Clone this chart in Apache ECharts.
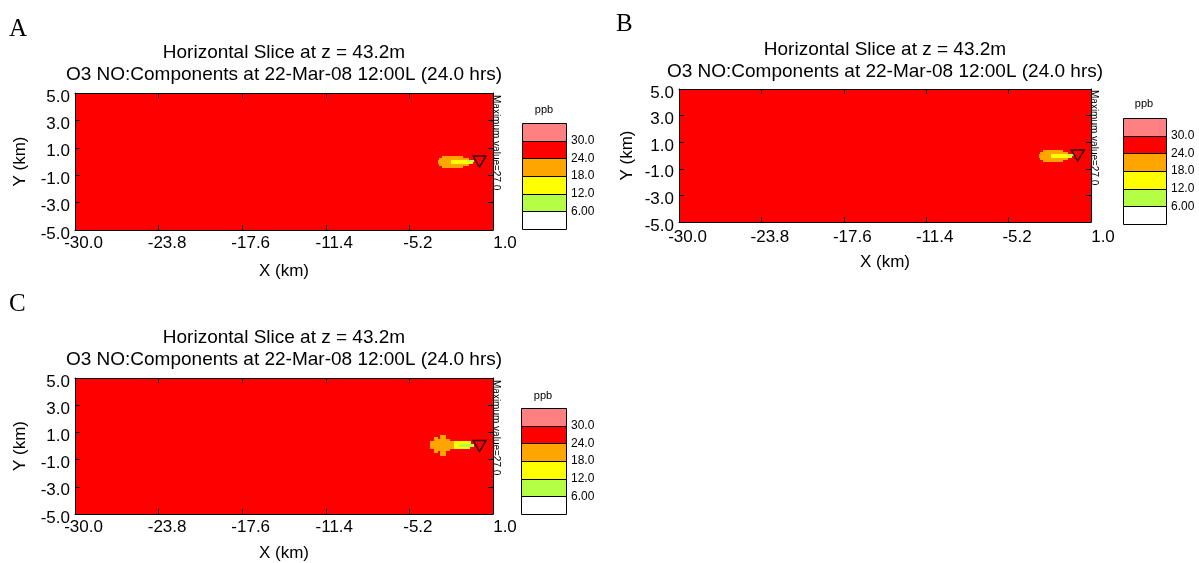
<!DOCTYPE html>
<html>
<head>
<meta charset="utf-8">
<script src="https://cdn.jsdelivr.net/npm/echarts@6/dist/echarts.min.js"></script>
<style>
  html, body { margin: 0; padding: 0; background: #ffffff; }
  #chart { width: 1199px; height: 563px; }
</style>
</head>
<body>
<div id="chart"></div>
<script>
// Axis tick values (km)
const xTicks = [-30.0, -23.8, -17.6, -11.4, -5.2, 1.0];
const yTicks = [5.0, 3.0, 1.0, -1.0, -3.0, -5.0];

// Concentration classes (ppb) and their fill colours
const binEdges = [0, 6, 12, 18, 24, 30, 36];
const binColors = ['#ffffff', '#b4ff46', '#ffff00', '#ffa500', '#ff0000', '#ff8080'];
const keyLabels = [6, 12, 18, 24, 30];

// Largest value on the slice (ppb)
const maxValue = 27.0;

// Cells: [x0, x1, y0, y1, ppb] in km
const field = [[-30.0, 1.0, -5.0, 5.0, 27.0]];

const plumeA = [
  [-2.8, -1.2, 0.25, 0.40, 21],
  [-3.0, -0.8, 0.10, 0.25, 21],
  [-3.1, -2.1, -0.05, 0.10, 21],
  [-2.1, -0.9, -0.05, 0.10, 15],
  [-0.9, -0.4, -0.05, 0.10, 9],
  [-3.1, -2.1, -0.20, -0.05, 21],
  [-2.1, -0.5, -0.20, -0.05, 15],
  [-3.0, -0.8, -0.35, -0.20, 21],
  [-2.8, -1.2, -0.50, -0.35, 21]
];

const plumeB = [
  [-2.6, -1.1, 0.25, 0.40, 21],
  [-2.8, -0.7, 0.10, 0.25, 21],
  [-2.9, -2.0, -0.05, 0.10, 21],
  [-2.0, -0.8, -0.05, 0.10, 15],
  [-0.8, -0.3, -0.05, 0.10, 9],
  [-2.9, -2.0, -0.20, -0.05, 21],
  [-2.0, -0.4, -0.20, -0.05, 15],
  [-2.8, -0.7, -0.35, -0.20, 21],
  [-2.6, -1.1, -0.50, -0.35, 21]
];

const plumeC = [
  [-3.7, -3.4, -0.25, 0.35, 21],
  [-3.4, -3.1, -0.55, 0.65, 21],
  [-3.1, -2.9, -0.40, 0.50, 21],
  [-2.9, -2.5, -0.70, 0.80, 21],
  [-2.5, -2.2, -0.40, 0.50, 21],
  [-2.2, -1.9, -0.25, 0.35, 21],
  [-1.9, -1.5, -0.25, 0.35, 15],
  [-1.5, -0.6, 0.15, 0.35, 15],
  [-1.5, -0.4, -0.05, 0.15, 9],
  [-1.5, -0.7, -0.25, -0.05, 15]
];

// Release point (km)
const source = [[0.0, 0.0]];

const titleLine1 = 'Horizontal Slice at z = 43.2m';
const titleLine2 = 'O3 NO:Components at 22-Mar-08 12:00L (24.0 hrs)';

const FONT = "'Liberation Sans', Arial, sans-serif";

function colorFor(v) {
  for (let i = 0; i < binColors.length; i++) {
    if (v >= binEdges[i] && v < binEdges[i + 1]) return binColors[i];
  }
  return binColors[binColors.length - 1];
}

// Colour key rectangles built from the class edges
const keyCells = binColors.map((c, i) => [0, 1, binEdges[i], binEdges[i + 1], (binEdges[i] + binEdges[i + 1]) / 2]);

function renderCell(params, api) {
  const a = api.coord([api.value(0), api.value(3)]);
  const b = api.coord([api.value(1), api.value(2)]);
  const x = Math.round(a[0]), y = Math.round(a[1]);
  return {
    type: 'rect',
    shape: { x: x, y: y, width: Math.round(b[0]) - x, height: Math.round(b[1]) - y },
    style: { fill: colorFor(api.value(4)), lineWidth: 0 }
  };
}

function renderKeyCell(params, api) {
  const a = api.coord([api.value(0), api.value(3)]);
  const b = api.coord([api.value(1), api.value(2)]);
  const x = Math.round(a[0]) + 0.5, y = Math.round(a[1]) + 0.5;
  return {
    type: 'rect',
    shape: { x: x, y: y, width: Math.round(b[0]) + 0.5 - x, height: Math.round(b[1]) + 0.5 - y },
    style: { fill: colorFor(api.value(4)), stroke: '#000', lineWidth: 1 }
  };
}

const panels = [
  { letter: 'A', cells: plumeA,
    plot: { left: 75, top: 93, width: 418, height: 137 },
    key: { left: 522, top: 123, width: 44, height: 106 },
    letterPos: [9, 17], titlePos: [284, 42], ppbPos: [544, 104], maxPos: [496, 95],
    yGap: 46, xGap: 33, xMargin: 5 },
  { letter: 'B', cells: plumeB,
    plot: { left: 679, top: 89, width: 412, height: 133 },
    key: { left: 1123, top: 118, width: 43, height: 106 },
    letterPos: [616, 12], titlePos: [885, 39], ppbPos: [1144, 98], maxPos: [1094, 90],
    yGap: 43, xGap: 32, xMargin: 7 },
  { letter: 'C', cells: plumeC,
    plot: { left: 75, top: 378, width: 418, height: 136 },
    key: { left: 521, top: 408, width: 45, height: 106 },
    letterPos: [9, 292], titlePos: [284, 327], ppbPos: [543, 390], maxPos: [496, 380],
    yGap: 46, xGap: 31, xMargin: 5 }
];

const grid = [], xAxis = [], yAxis = [], series = [], title = [], graphic = [];
const black = { color: '#000', width: 1 };

panels.forEach((p, k) => {
  const gPlot = 2 * k, gKey = 2 * k + 1;
  const ax = 3 * k;
  grid.push(Object.assign({ outerBoundsMode: 'none', containLabel: false }, p.plot));
  grid.push(Object.assign({ outerBoundsMode: 'none', containLabel: false }, p.key));

  // x axes: bottom with labels, top frame, key
  xAxis.push({
    type: 'value', gridIndex: gPlot, min: -30, max: 1, position: 'bottom', z: 10,
    axisLine: { show: true, onZero: false, lineStyle: black },
    axisTick: { show: true, inside: true, length: 5, customValues: xTicks, lineStyle: black },
    axisLabel: {
      show: true, customValues: xTicks, margin: p.xMargin, color: '#000', fontFamily: FONT, fontSize: 17,
      formatter: v => (v > 0 ? '{e|' : '{n|') + v.toFixed(1) + '}',
      rich: {
        n: { padding: [0, 0, 0, 17], color: '#000', fontFamily: FONT, fontSize: 17 },
        e: { padding: [0, 0, 0, 24], color: '#000', fontFamily: FONT, fontSize: 17 }
      }
    },
    splitLine: { show: false },
    name: 'X (km)', nameLocation: 'middle', nameGap: p.xGap,
    nameTextStyle: { color: '#000', fontFamily: FONT, fontSize: 17 }
  });
  xAxis.push({
    type: 'value', gridIndex: gPlot, min: -30, max: 1, position: 'top', z: 10,
    axisLine: { show: true, onZero: false, lineStyle: black },
    axisTick: { show: true, inside: true, length: 5, customValues: xTicks, lineStyle: black },
    axisLabel: { show: false }, splitLine: { show: false }
  });
  xAxis.push({
    type: 'value', gridIndex: gKey, min: 0, max: 1, show: false
  });

  // y axes: left with labels, right frame, key scale
  yAxis.push({
    type: 'value', gridIndex: gPlot, min: -5, max: 5, position: 'left', z: 10,
    axisLine: { show: true, onZero: false, lineStyle: black },
    axisTick: { show: true, inside: true, length: 5, customValues: yTicks, lineStyle: black },
    axisLabel: {
      show: true, customValues: yTicks, margin: 5, color: '#000', fontFamily: FONT, fontSize: 17,
      formatter: v => '{t|' + v.toFixed(1) + '}',
      rich: { t: { padding: [8, 0, 0, 0], color: '#000', fontFamily: FONT, fontSize: 17 } }
    },
    splitLine: { show: false },
    name: 'Y (km)', nameLocation: 'middle', nameGap: p.yGap,
    nameTextStyle: { color: '#000', fontFamily: FONT, fontSize: 17 }
  });
  yAxis.push({
    type: 'value', gridIndex: gPlot, min: -5, max: 5, position: 'right', z: 10,
    axisLine: { show: true, onZero: false, lineStyle: black },
    axisTick: { show: true, inside: true, length: 5, customValues: yTicks, lineStyle: black },
    axisLabel: { show: false }, splitLine: { show: false }
  });
  yAxis.push({
    type: 'value', gridIndex: gKey, min: binEdges[0], max: binEdges[binEdges.length - 1],
    position: 'right', z: 10,
    axisLine: { show: false }, axisTick: { show: false }, splitLine: { show: false },
    axisLabel: {
      show: true, margin: 5, customValues: keyLabels,
      color: '#000', fontFamily: FONT, fontSize: 12, formatter: v => v.toPrecision(3)
    }
  });

  // concentration field, plume cells, release point
  series.push({
    type: 'custom', xAxisIndex: ax, yAxisIndex: ax, renderItem: renderCell,
    encode: { x: [0, 1], y: [2, 3] }, data: field, silent: true, z: 1
  });
  series.push({
    type: 'custom', xAxisIndex: ax, yAxisIndex: ax, renderItem: renderCell,
    encode: { x: [0, 1], y: [2, 3] }, data: p.cells, silent: true, z: 2
  });
  series.push({
    type: 'scatter', xAxisIndex: ax, yAxisIndex: ax, data: source, silent: true, z: 3,
    symbol: 'triangle', symbolSize: [13, 11], symbolRotate: 180,
    itemStyle: { color: 'rgba(0,0,0,0)', borderColor: '#000', borderWidth: 1.5 }
  });
  series.push({
    type: 'custom', xAxisIndex: ax + 2, yAxisIndex: ax + 2, renderItem: renderKeyCell,
    encode: { x: [0, 1], y: [2, 3] }, data: keyCells, silent: true, z: 2
  });

  title.push({
    text: titleLine1 + '\n' + titleLine2, left: p.titlePos[0], top: p.titlePos[1],
    textAlign: 'center', padding: 0,
    textStyle: { color: '#000', fontFamily: FONT, fontSize: 19, fontWeight: 'normal', lineHeight: 22 }
  });
  title.push({
    text: p.letter, left: p.letterPos[0], top: p.letterPos[1], padding: 0,
    textStyle: { color: '#000', fontFamily: "'Liberation Serif', 'Times New Roman', serif", fontSize: 25, fontWeight: 'normal' }
  });
  title.push({
    text: 'ppb', left: p.ppbPos[0], top: p.ppbPos[1], textAlign: 'center', padding: 0,
    textStyle: { color: '#000', fontFamily: FONT, fontSize: 11, fontWeight: 'normal' }
  });

  graphic.push({
    type: 'text', x: p.maxPos[0], y: p.maxPos[1], rotation: -Math.PI / 2, silent: true,
    style: {
      text: 'Maximum value=' + maxValue.toFixed(1), font: '10px ' + FONT, fill: '#000',
      textAlign: 'left', textVerticalAlign: 'middle', align: 'left', verticalAlign: 'middle'
    }
  });
});

const chart = echarts.init(document.getElementById('chart'), null, { renderer: 'canvas' });
chart.setOption({
  animation: false,
  backgroundColor: '#ffffff',
  title: title,
  grid: grid,
  xAxis: xAxis,
  yAxis: yAxis,
  series: series,
  graphic: graphic
});
</script>
</body>
</html>
